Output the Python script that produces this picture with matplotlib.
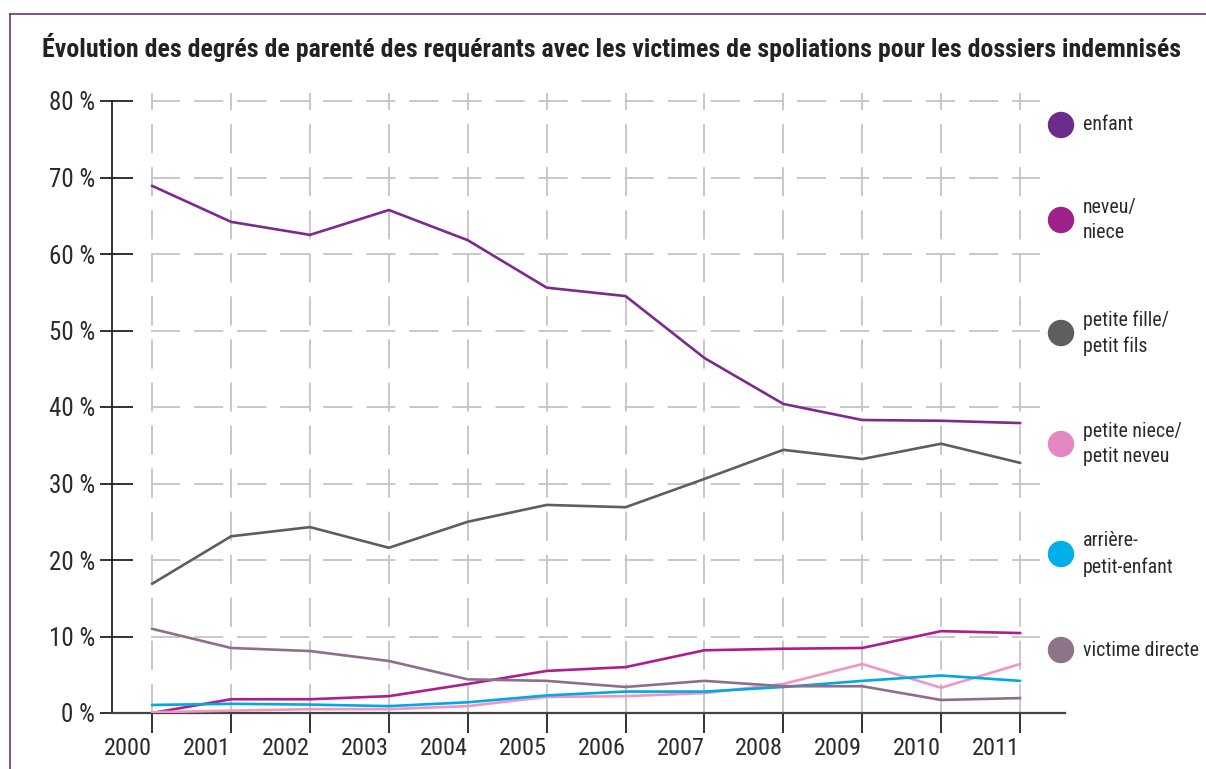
import matplotlib
matplotlib.use("Agg")
import matplotlib.pyplot as plt
import matplotlib.font_manager as fm
from matplotlib.lines import Line2D
from matplotlib.patches import Circle

plt.rcParams['lines.scale_dashes'] = False

years = [2000, 2001, 2002, 2003, 2004, 2005, 2006, 2007, 2008, 2009, 2010, 2011]
year_labels = [str(y) for y in years]

enfant = [68.9, 64.2, 62.5, 65.75, 61.8, 55.6, 54.5, 46.4, 40.4, 38.3, 38.2, 37.9]
neveu_niece = [0.0, 1.8, 1.8, 2.2, 3.8, 5.5, 6.0, 8.2, 8.4, 8.5, 10.7, 10.45]
petite_fille = [16.9, 23.1, 24.3, 21.6, 25.0, 27.2, 26.9, 30.6, 34.4, 33.2, 35.2, 32.7]
petite_niece = [0.1, 0.3, 0.5, 0.5, 0.9, 2.1, 2.2, 2.6, 3.8, 6.4, 3.3, 6.4]
arriere_petit = [1.05, 1.2, 1.1, 0.9, 1.4, 2.3, 2.8, 2.8, 3.4, 4.2, 4.9, 4.2]
victime_directe = [11.0, 8.5, 8.1, 6.8, 4.4, 4.2, 3.4, 4.2, 3.5, 3.5, 1.7, 1.95]

y_ticks = [0, 10, 20, 30, 40, 50, 60, 70, 80]
y_tick_labels = [f"{v} %" for v in y_ticks]

series_names = ["enfant", "neveu/\nniece", "petite fille/\npetit fils",
                "petite niece/\npetit neveu", "arrière-\npetit-enfant", "victime directe"]
series_values = [enfant, neveu_niece, petite_fille, petite_niece, arriere_petit, victime_directe]
line_colors = ["#7d2a8e", "#ae1d8e", "#5e5e5e", "#f195c4", "#00a8e6", "#8d6f89"]
dot_colors = ["#6b2d8b", "#9e2289", "#5e5e5e", "#e388c2", "#00aeea", "#8e7488"]

title = "Évolution des degrés de parenté des requérants avec les victimes de spoliations pour les dossiers indemnisés"


# ---- pick a condensed font if one is installed ----
def _wnum(w):
    if isinstance(w, (int, float)):
        return w
    return {"normal": 400, "regular": 400, "book": 400, "medium": 500,
            "semibold": 600, "demibold": 600, "bold": 700, "heavy": 800,
            "black": 900, "light": 300}.get(str(w).lower(), 400)


def _is_cond(f):
    n = f.fname.lower()
    st = f.stretch
    if isinstance(st, str):
        cond_st = "condensed" in st or "narrow" in st
    else:
        cond_st = st is not None and st < 500
    return cond_st or "condensed" in n or "narrow" in n


def find_condensed(bold):
    prefs = ["Roboto Condensed", "Noto Sans", "Open Sans", "DejaVu Sans",
             "Liberation Sans Narrow", "Roboto", "Lato", "Inter"]
    best = None
    for f in fm.fontManager.ttflist:
        if not _is_cond(f):
            continue
        n = f.fname.lower()
        if f.style != "normal" or "italic" in n or "mono" in n or "serif" in f.name.lower() and "sans" not in f.name.lower():
            continue
        if "semicondensed" in n or "semi" in str(f.stretch):
            tier = 1
        elif "extra" in n or "ultra" in n or "extra" in str(f.stretch):
            tier = 2
        else:
            tier = 0
        w = _wnum(f.weight)
        target = 700 if bold else 400
        wd = abs(w - target)
        try:
            fp = prefs.index(f.name)
        except ValueError:
            fp = len(prefs)
        key = (wd, tier, fp)
        if best is None or key < best[0]:
            best = (key, f.fname)
    if best is None:
        return None
    return fm.FontProperties(fname=best[1])


reg_fp = find_condensed(False)
bold_fp = find_condensed(True)
if reg_fp is None:
    reg_fp = fm.FontProperties(family="DejaVu Sans", stretch="condensed")
if bold_fp is None:
    bold_fp = fm.FontProperties(family="DejaVu Sans", stretch="condensed", weight="bold")

W, H = 1206, 769
fig = plt.figure(figsize=(W / 100, H / 100), dpi=100)
fig.patch.set_facecolor("white")


def fx(px):
    return px / W


def fy(py):
    return 1 - py / H


ax = fig.add_axes([fx(112), fy(713), fx(1065) - fx(112), fy(101) - fy(713)])
ax.set_xlim(1999.49, 2011.57)
ax.set_ylim(0, 80)
ax.set_facecolor("none")

grid_kw = dict(color="#c4c4c4", linewidth=1.3, linestyle=(0, (21, 10)), zorder=0)
for yv in y_ticks:
    ax.plot([years[0] - 0.02, 2011.25], [yv, yv], clip_on=False, **grid_kw)
for xv in years:
    ax.plot([xv, xv], [0, 81], clip_on=False, **grid_kw)

for vals, col in zip(series_values, line_colors):
    ax.plot(years, vals, color=col, linewidth=1.9, zorder=3, solid_joinstyle="miter")

for s in ["top", "right"]:
    ax.spines[s].set_visible(False)
ax.spines["left"].set_color("#222222")
ax.spines["bottom"].set_color("#444444")
ax.spines["left"].set_linewidth(1.3)
ax.spines["bottom"].set_linewidth(1.6)

ax.set_yticks(y_ticks)
ax.set_yticklabels(y_tick_labels)
ax.set_yticks(y_ticks, minor=True)
ax.yaxis.remove_overlapping_locs = False
ax.tick_params(axis="y", which="major", direction="in", length=15, width=1.3,
               color="#222222", labelcolor="#2a2a2a", pad=12)
ax.tick_params(axis="y", which="minor", direction="out", length=9, width=1.3, color="#222222")

ax.set_xticks(years)
ax.set_xticklabels(year_labels)
ax.tick_params(axis="x", direction="out", length=14.5, width=1.3, color="#222222",
               labelcolor="#2a2a2a", pad=3)
for lab in ax.get_yticklabels():
    lab.set_fontproperties(reg_fp)
    lab.set_fontsize(18)
for lab in ax.get_xticklabels():
    lab.set_fontproperties(reg_fp)
    lab.set_fontsize(17.5)
    lab.set_horizontalalignment("right")

fig.text(fx(42), fy(47), title, fontproperties=bold_fp, fontsize=18.6, color="#222222",
         ha="left", va="center")

fig.add_artist(Line2D([fx(10), 1.0], [fy(14), fy(14)], color="#6e3270", linewidth=1.2))
fig.add_artist(Line2D([fx(10), fx(10)], [fy(14), 0.0], color="#6e3270", linewidth=1.2))

legend_y = [125, 220, 333, 444, 554, 650]
for name, col, ly in zip(series_names, dot_colors, legend_y):
    fig.add_artist(Circle((1061 / 100, (H - ly) / 100), radius=0.125, color=col,
                          transform=fig.dpi_scale_trans))
    fig.text(fx(1083), fy(ly), name, fontproperties=reg_fp, fontsize=14.3, color="#2a2a2a",
             ha="left", va="center", linespacing=1.45)

fig.savefig("out.png", dpi=100, facecolor="white")
